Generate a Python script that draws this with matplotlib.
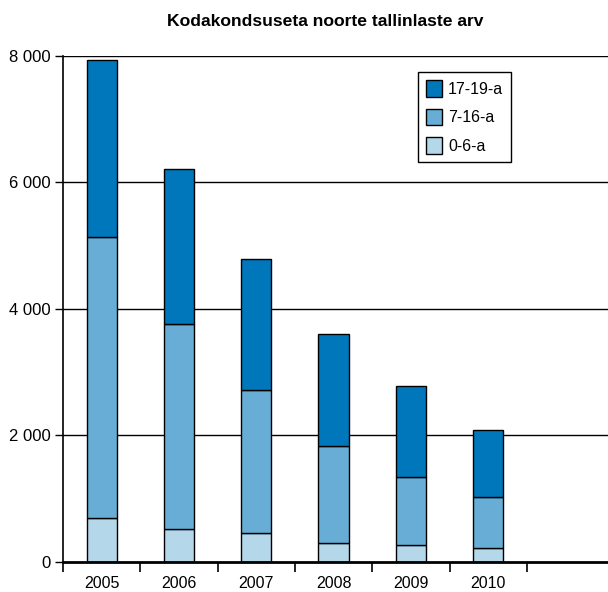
import matplotlib.pyplot as plt
import numpy as np
from matplotlib.ticker import FuncFormatter

years = ["2005", "2006", "2007", "2008", "2009", "2010"]
age_0_6 = [696, 517, 459, 296, 264, 217]
age_7_16 = [4439, 3237, 2264, 1529, 1076, 801]
age_17_19 = [2800, 2461, 2059, 1781, 1434, 1070]

C_LIGHT = "#b4d7ea"
C_MID = "#67add5"
C_DARK = "#0077bb"

plt.rcParams["font.family"] = ["Liberation Sans", "DejaVu Sans"]

fig = plt.figure(figsize=(6.08, 5.92), dpi=100)
ax = fig.add_axes([63 / 608, 1 - 561.7 / 592, 1 - 63 / 608, (561.7 - 56) / 592])

x = np.arange(len(years))
w = 0.39
bottom_mid = np.array(age_0_6)
bottom_top = bottom_mid + np.array(age_7_16)

kw = dict(width=w, edgecolor="black", linewidth=1.0, zorder=3)
b1 = ax.bar(x, age_0_6, color=C_LIGHT, label="0-6-a", **kw)
b2 = ax.bar(x, age_7_16, bottom=bottom_mid, color=C_MID, label="7-16-a", **kw)
b3 = ax.bar(x, age_17_19, bottom=bottom_top, color=C_DARK, label="17-19-a", **kw)

# grid lines
ax.set_ylim(0, 8000)
ax.set_yticks([0, 2000, 4000, 6000, 8000])
ax.yaxis.set_major_formatter(FuncFormatter(lambda v, _: f"{int(v):,}".replace(",", " ")))
for yv in [2000, 4000, 6000, 8000]:
    ax.axhline(yv, color="black", lw=1.0, zorder=1)

# 7 category slots, last one empty and cut by the image edge
ax.set_xlim(-0.5, 6.55)
ax.set_xticks(x)
ax.set_xticklabels(years, fontsize=11.5)
ax.set_xticks(np.arange(-0.5, 6.0, 1), minor=True)
ax.tick_params(axis="x", which="major", length=0, pad=10)
ax.tick_params(axis="x", which="minor", length=7, width=1.2, direction="out", color="black")
ax.tick_params(axis="y", length=6, width=1.0, direction="out", labelsize=12, pad=3)

for s in ["top", "right"]:
    ax.spines[s].set_visible(False)
ax.spines["left"].set_linewidth(1.2)
ax.spines["bottom"].set_linewidth(2.0)
ax.spines["bottom"].set_zorder(4)

fig.text(325 / 608, 1 - 22 / 592, "Kodakondsuseta noorte tallinlaste arv",
         ha="center", va="center", fontsize=12.6, fontweight="bold")

leg = ax.legend([b3, b2, b1], ["17-19-a", "7-16-a", "0-6-a"],
                loc="upper right", bbox_to_anchor=(0.822, 0.968), borderaxespad=0,
                fontsize=11.5, frameon=True, fancybox=False, framealpha=1,
                edgecolor="black", handlelength=1.05, handleheight=1.25,
                handletextpad=0.35, labelspacing=0.72, borderpad=0.5)
leg.get_frame().set_linewidth(1.0)

fig.savefig("out.png", dpi=100)
